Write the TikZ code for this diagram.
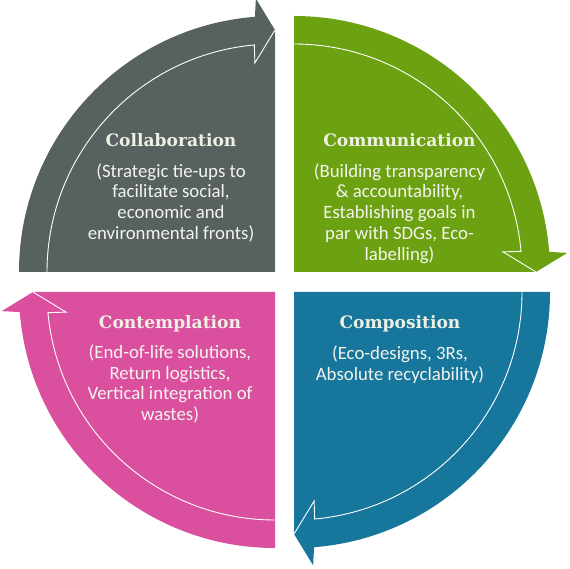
\documentclass[tikz,border=0pt]{standalone}
\usepackage{fontspec}
\setmainfont{Carlito}
\newfontfamily\titlefont{DejaVu Serif}
\usetikzlibrary{calc}
\definecolor{qgray}{HTML}{57615F}
\definecolor{qgreen}{HTML}{6CA212}
\definecolor{qblue}{HTML}{17769B}
\definecolor{qpink}{HTML}{DB509E}
\definecolor{titletext}{HTML}{EEF0E4}
\definecolor{bodytext}{HTML}{F4F4EE}
\tikzset{
  ttl/.style={anchor=base, inner sep=0pt, text=titletext, font=\titlefont\bfseries\fontsize{17.1}{20}\selectfont},
  bdy/.style={anchor=base, inner sep=0pt, align=center, text=bodytext, font=\fontsize{18.8}{20.7}\selectfont},
  edgeline/.style={draw=white, line width=0.9pt}
}
\begin{document}
\begin{tikzpicture}[x=1pt,y=1pt]
\useasboundingbox (0,0) rectangle (570,568);
\foreach \cx/\cy/\S/\col in {275/296/180/qgray, 294/296/90/qgreen, 294/276/0/qblue, 275/276/270/qpink}{
  \pgfmathsetmacro{\E}{\S-90}
  \begin{scope}[shift={(\cx,\cy)}]
    \fill[\col] (0,0) -- ({\S}:256) arc[start angle=\S, end angle={\E+4.5}, radius=256]
      -- ({\E+4}:274) -- ({\E}:242) -- cycle;
    \draw[edgeline] ({\S}:228) arc[start angle=\S, end angle={\E+5.2}, radius=228]
      -- ({\E+5.5}:210) -- ({\E}:242);
  \end{scope}
}
% body nodes: base anchor = baseline of last line
\node[ttl] (t1) at (171,421.3) {Collaboration};
\node[bdy] (b1) at (171,328.6) {(Strategic tie-ups to\\facilitate social,\\economic and\\environmental fronts)};
\node[ttl] (t2) at (399.5,421.3) {Communication};
\node[bdy] (b2) at (399.5,307.9) {(Building transparency\\\& accountability,\\Establishing goals in\\par with SDGs, Eco-\\labelling)};
\node[ttl] (t3) at (170,239.5) {Contemplation};
\node[bdy] (b3) at (170,147.4) {(End-of-life solutions,\\Return logistics,\\Vertical integration of\\wastes)};
\node[ttl] (t4) at (400,239.7) {Composition};
\node[bdy] (b4) at (400,188) {(Eco-designs, 3Rs,\\Absolute recyclability)};
\end{tikzpicture}
\end{document}
